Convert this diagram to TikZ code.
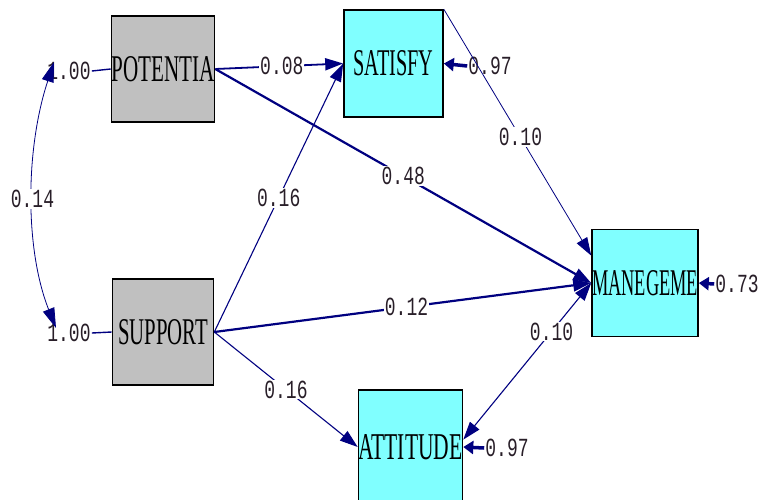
\documentclass[tikz,border=0pt]{standalone}
\usepackage{fontspec}
\usepackage{graphicx}
\usetikzlibrary{arrows.meta}
\newfontfamily\boxfont{Liberation Serif}
\newfontfamily\numfont{Liberation Mono}
\definecolor{navyline}{RGB}{0,0,128}
\definecolor{grayfill}{RGB}{192,192,192}
\definecolor{cyanfill}{RGB}{128,255,255}
\definecolor{numcol}{RGB}{40,30,40}
\newcommand{\boxtxt}[2]{\resizebox{#1pt}{25pt}{\boxfont #2}}
\newcommand{\numtxt}[1]{\scalebox{1}[1.45]{\fontsize{18}{18}\selectfont\numfont #1}}
\begin{document}
\begin{tikzpicture}[x=1pt,y=-1pt,
  varbox/.style={draw=black,line width=1.6pt,inner sep=0pt,minimum width=#1},
  exo/.style={varbox=101pt,fill=grayfill,minimum height=106pt},
  endo/.style={varbox=99pt,fill=cyanfill,minimum height=107pt},
  lab/.style={fill=white,inner sep=1pt,text=numcol},
  path/.style={draw=navyline,line width=1.1pt,-{Triangle[length=18pt,width=12pt]}},
  thick path/.style={path,line width=2.2pt},
  thin path/.style={path,line width=0.8pt},
  err path/.style={draw=navyline,line width=3.5pt,-{Triangle[length=10pt,width=13pt]}}]
\useasboundingbox (0,0) rectangle (763,499);
% boxes
\node[exo] (POT) at (163,69) {\boxtxt{103}{POTENTIA}};
\node[exo] (SUP) at (163,332) {\boxtxt{90}{SUPPORT}};
\node[endo] (SAT) at (393.5,63.5) {\boxtxt{80}{SATISFY}};
\node[endo] (MAN) at (645,283) {\boxtxt{106}{MANEGEME}};
\node[endo,minimum height=114pt] (ATT) at (410.5,447) {\boxtxt{104}{ATTITUDE}};
% variance / error labels
\node[lab] (v1) at (69,71) {\numtxt{1.00}};
\node[lab] (v2) at (69,333) {\numtxt{1.00}};
\node[lab] (e1) at (490,66) {\numtxt{0.97}};
\node[lab] (e2) at (737,284) {\numtxt{0.73}};
\node[lab] (e3) at (507,448) {\numtxt{0.97}};
\draw[draw=navyline,line width=1.4pt] (v1.east) -- (POT.west);
\draw[draw=navyline,line width=1.4pt] (v2.east) -- (SUP.west);
% covariance
\coordinate (c1) at (54,62);
\coordinate (c2) at (56,328);
\draw[thin path,{Triangle[length=20pt,width=12pt]}-{Triangle[length=20pt,width=12pt]}]
  (c1) .. controls (25,150) and (25,250) .. (c2)
  node[lab,pos=0.5] {\numtxt{0.14}};
% error arrows
\draw[err path] (e1.west) -- (SAT.east);
\draw[err path] (e2.west) -- (MAN.east);
\draw[err path] (e3.west) -- (ATT.east);
% structural paths
\draw[path,line width=1.8pt] (POT.east) -- (SAT.west) node[lab,pos=0.52] {\numtxt{0.08}};
\draw[thick path] (POT.east) -- (MAN.west) node[lab,pos=0.5] {\numtxt{0.48}};
\draw[thin path] (SAT.north east) -- (MAN.153) node[lab,pos=0.52] {\numtxt{0.10}};
\draw[path] (SUP.east) -- (SAT.west) node[lab,pos=0.5] {\numtxt{0.16}};
\draw[thick path] (SUP.east) -- (MAN.west) node[lab,pos=0.51] {\numtxt{0.12}};
\draw[path] (SUP.east) -- (ATT.west) node[lab,pos=0.5] {\numtxt{0.16}};
\draw[path,{Triangle[length=18pt,width=12pt]}-{Triangle[length=18pt,width=12pt]}] (ATT.8) -- (MAN.west) node[lab,pos=0.69] {\numtxt{0.10}};
\end{tikzpicture}
\end{document}
